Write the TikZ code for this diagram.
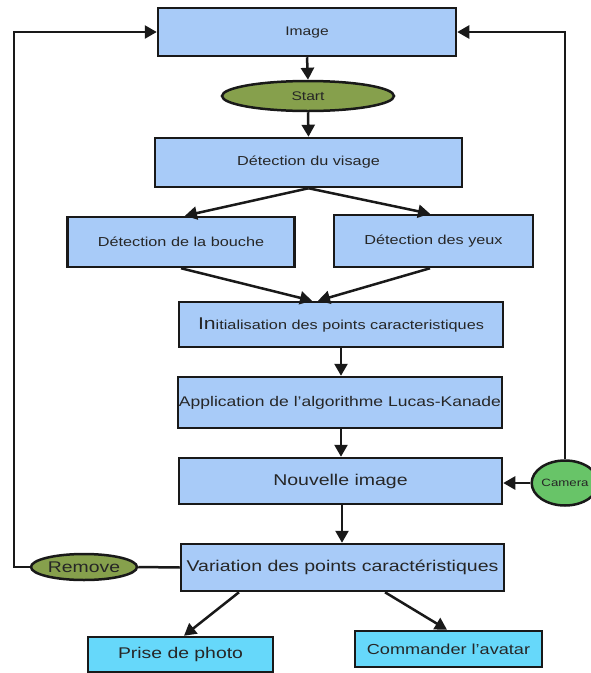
\documentclass[tikz,border=0pt]{standalone}
\usepackage{fontspec}
\setmainfont[FakeStretch=1.25]{Liberation Sans}
\usetikzlibrary{shapes.geometric,arrows.meta}
\definecolor{boxblue}{RGB}{168,203,248}
\definecolor{olivegreen}{RGB}{134,160,76}
\definecolor{camgreen}{RGB}{104,196,104}
\definecolor{cyanbox}{RGB}{102,216,250}
\newcommand{\fs}[1]{\fontsize{#1}{#1}\selectfont}
\begin{document}
\begin{tikzpicture}[x=1pt,y=-1pt,
  box/.style={draw=black!90, line width=2.5pt, fill=boxblue, rectangle, inner sep=0pt, text=black!85},
  cbox/.style={box, fill=cyanbox},
  oval/.style={draw=black!90, line width=2.5pt, ellipse, inner sep=0pt, text=black!85},
  arr/.style={draw=black!90, line width=2.5pt, -{Triangle[length=12pt,width=13pt]}},
  conn/.style={draw=black!90, line width=2.5pt}]
\clip (0,0) rectangle (591,673);
\fill[white] (0,0) rectangle (591,673);

\node[box, minimum width=298pt, minimum height=48pt, font=\fs{12.5}] (img) at (307,32) {Image};
\node[oval, fill=olivegreen, minimum width=172pt, minimum height=30pt, font=\fs{12.5}] (start) at (308,96) {Start};
\node[box, minimum width=307pt, minimum height=49pt, font=\fs{13}] (visage) at (308.5,162.5) {Détection du visage};
\node[box, minimum width=227pt, minimum height=50pt, font=\fs{13}] (bouche) at (181,242) {Détection de la bouche};
\node[box, minimum width=199pt, minimum height=52pt, font=\fs{13}] (yeux) at (433.5,241) {Détection des yeux};
\node[box, minimum width=324pt, minimum height=45pt, font=\fs{13}] (init) at (341,324.5) {{\fs{17}In}itialisation des points caracteristiques};
\node[box, minimum width=324pt, minimum height=51pt, font=\fs{14}] (appl) at (340,402.5) {Application de l'algorithme Lucas-Kanade};
\node[box, minimum width=323pt, minimum height=46pt, font=\fs{15.6}] (nouv) at (340.5,481) {Nouvelle image};
\node[box, minimum width=323pt, minimum height=47pt, font=\fs{15.6}] (var) at (342.5,567.5) {Variation des points caractéristiques};
\node[cbox, minimum width=185pt, minimum height=35pt, font=\fs{15.5}] (prise) at (180.5,654.5) {Prise de photo};
\node[cbox, minimum width=187pt, minimum height=36pt, font=\fs{14.5}] (comm) at (448.5,649) {Commander l'avatar};
\node[oval, fill=olivegreen, minimum width=106pt, minimum height=26pt, font=\fs{15.5}] (remove) at (84,567) {Remove};
\node[oval, fill=camgreen, minimum width=66pt, minimum height=45pt, font=\fs{10.6}] (camera) at (565,483) {Camera};
\coordinate (lcorner) at (14,567);

\draw[arr] (img.south) -- (start.north);
\draw[arr] (start.south) -- (visage.north);
\draw[arr] (visage.south) -- ([xshift=4pt]bouche.north);
\draw[arr] (visage.south) -- ([xshift=-3.5pt]yeux.north);
\draw[arr] (bouche.south) -- ([xshift=-29pt]init.north);
\draw[arr] ([xshift=-3.5pt]yeux.south) -- ([xshift=-23pt]init.north);
\draw[arr] (init.south) -- (init.south |- appl.north);
\draw[arr] ([xshift=1pt]appl.south) -- ([xshift=1pt]appl.south |- nouv.north);
\draw[arr] ([xshift=1.5pt]nouv.south) -- ([xshift=1.5pt]nouv.south |- var.north);
\draw[arr] ([xshift=-103.5pt]var.south) -- ([xshift=3.5pt]prise.north);
\draw[arr] ([xshift=42.5pt]var.south) -- ([xshift=-1.5pt]comm.north);
\draw[arr] (camera.west) -- (camera.west -| nouv.east);
\draw[arr] (camera.north) |- (img.east);
\draw[conn] (var.west) -- (remove.east);
\draw[arr] (remove.west) -- (lcorner) |- (img.west);
\end{tikzpicture}
\end{document}
